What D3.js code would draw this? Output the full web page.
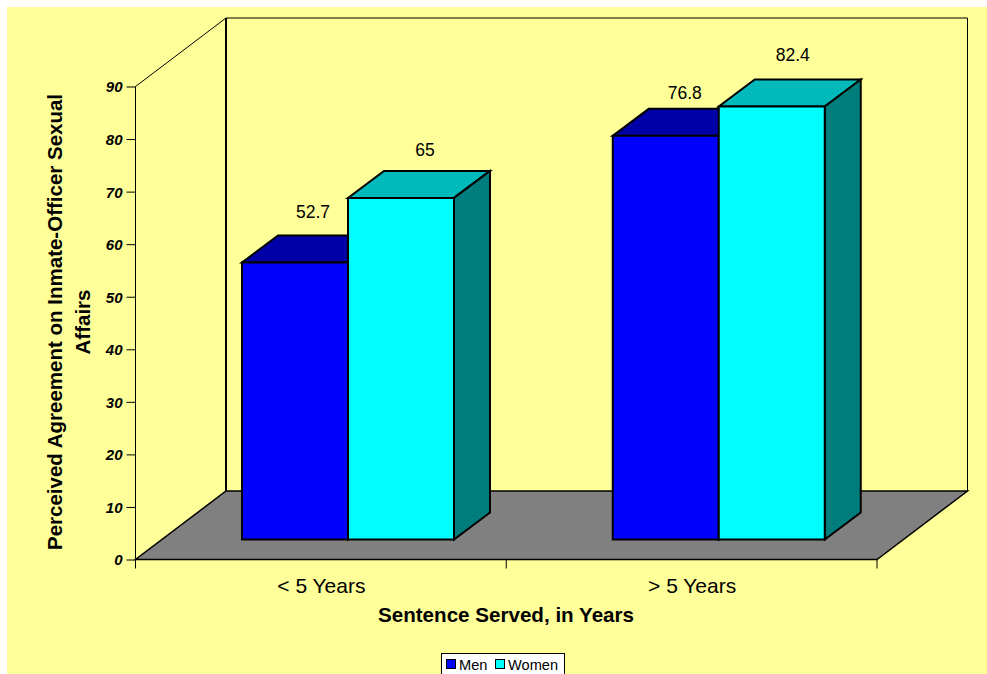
<!DOCTYPE html>
<html><head><meta charset="utf-8">
<script src="https://cdn.jsdelivr.net/npm/d3@7"></script>
<style>html,body{margin:0;padding:0;background:#fff}svg{display:block}text{font-family:"Liberation Sans",Arial,sans-serif;fill:#000}</style>
</head><body><svg id="c" width="987" height="674"></svg>
<script>
const categories = ["< 5 Years", "> 5 Years"];
const seriesNames = ["Men", "Women"];
const men = [52.7, 76.8];
const women = [65, 82.4];
const labelsMen = ["52.7", "76.8"];
const labelsWomen = ["65", "82.4"];
const yTicks = [0,10,20,30,40,50,60,70,80,90];

const svg = d3.select("#c");
svg.append("rect").attr("x",7).attr("y",7).attr("width",980).attr("height",667).attr("fill","#ffff99");

const y = d3.scaleLinear().domain([0,90]).range([559.5,86.5]);
const x0 = d3.scaleBand().domain(categories).range([135.5,877]);
const x1 = d3.scaleBand().domain(seriesNames).range([106.5,318.5]).paddingInner(0);
const deep = [90.5,-68.5];
const L = 135.5, R = 877, B = y(0), T = y(90);

function dither(id, base, dot){
  const p = svg.append("defs").append("pattern").attr("id",id).attr("patternUnits","userSpaceOnUse").attr("width",4).attr("height",4);
  p.append("rect").attr("width",4).attr("height",4).attr("fill",base);
  [[0,0],[2,2]].forEach(d=>p.append("rect").attr("x",d[0]).attr("y",d[1]).attr("width",1).attr("height",1).attr("fill",dot));
  return `url(#${id})`;
}
const fills = {
  Men:{front:dither("mf","#0000ff","#0000e0"),top:dither("mt","#0000aa","#000096"),side:dither("ms","#000096","#000080")},
  Women:{front:dither("wf","#00ffff","#10eeee"),top:dither("wt","#00bcbc","#00aaaa"),side:dither("ws","#007f7f","#006e6e")}
};
const line = d3.line();
const poly = (pts,fill,sw,stroke)=>svg.append("path").attr("d",line(pts)+"Z").attr("fill",fill).attr("stroke",stroke||"#000").attr("stroke-width",sw).attr("stroke-linejoin","miter");

// walls and floor
svg.append("path").attr("d",line([[L,B],[L,T],[L+deep[0],T+deep[1]],[R+deep[0],T+deep[1]],[R+deep[0],B+deep[1]]])).attr("fill","none").attr("stroke","#000").attr("stroke-width",1);
svg.append("line").attr("x1",L+deep[0]).attr("x2",L+deep[0]).attr("y1",T+deep[1]).attr("y2",B+deep[1]).attr("stroke","#000").attr("stroke-width",2);
poly([[L,B],[R,B],[R+deep[0],B+deep[1]],[L+deep[0],B+deep[1]]],"#808080",1.5);

// axis ticks and labels
const yAxis = d3.axisLeft(y).tickValues(yTicks).tickSize(9).tickFormat(d3.format("d"));
const ga = svg.append("g").attr("transform",`translate(${L},0)`).call(yAxis);
ga.select(".domain").attr("stroke","#000").attr("d",`M0,${T}V${B}`);
ga.selectAll("line").attr("stroke","#000");
ga.selectAll("text").attr("x",-13).attr("dy","0.36em").style("font","italic bold 15px 'Liberation Sans'").attr("fill","#000");

svg.append("g").selectAll("line").data([L,(L+R)/2,R]).join("line")
  .attr("x1",d=>d).attr("x2",d=>d).attr("y1",B).attr("y2",B+9).attr("stroke","#000");
svg.append("g").selectAll("text").data(categories).join("text")
  .attr("x",d=>x0(d)+x0.bandwidth()/2+0.5).attr("y",593).attr("text-anchor","middle").attr("font-size",21).text(d=>d);

// bars
const depthBar = [36,-27];
const base = B-20;
const labelNudge = {"Men0":[71,-18],"Women0":[77,-15],"Men1":[72,-10],"Women1":[74,-18]};
const rows = [];
categories.forEach((c,i)=>{rows.push({c,i,s:"Men",v:men[i],l:labelsMen[i]});rows.push({c,i,s:"Women",v:women[i],l:labelsWomen[i]});});
rows.forEach(d=>{
  const a = x0(d.c)+x1(d.s), b = a+x1.bandwidth();
  const t = base-(B-y(d.v));
  const f = fills[d.s];
  poly([[a,t],[b,t],[b+depthBar[0],t+depthBar[1]],[a+depthBar[0],t+depthBar[1]]],f.top,2);
  poly([[b,t],[b+depthBar[0],t+depthBar[1]],[b+depthBar[0],base+depthBar[1]],[b,base]],f.side,2);
  poly([[a,t],[b,t],[b,base],[a,base]],f.front,2);
  const n = labelNudge[d.s+d.i];
  svg.append("text").attr("x",a+n[0]).attr("y",t+depthBar[1]+n[1]).attr("text-anchor","middle").attr("font-size",17.5).text(d.l);
});

// axis titles
svg.append("text").attr("x",506).attr("y",622).attr("text-anchor","middle").attr("font-size",20.6).attr("font-weight","bold").text("Sentence Served, in Years");
const ty = svg.append("text").attr("transform","translate(62,322) rotate(-90)").attr("text-anchor","middle").attr("font-size",20.5).attr("font-weight","bold");
ty.append("tspan").attr("x",0).attr("y",0).text("Perceived Agreement on Inmate-Officer Sexual");
ty.append("tspan").attr("x",0).attr("y",28).text("Affairs");

// legend
svg.append("rect").attr("x",441.5).attr("y",653.5).attr("width",123).attr("height",24).attr("fill","#fff").attr("stroke","#000");
const lx = d3.scaleOrdinal().domain(seriesNames).range([446,495]);
seriesNames.forEach(s=>{
  svg.append("rect").attr("x",lx(s)+.5).attr("y",659.5).attr("width",9).attr("height",9).attr("fill",s==="Men"?"#0000ff":"#00ffff").attr("stroke","#000");
  svg.append("text").attr("x",lx(s)+13).attr("y",669.5).attr("font-size",14.6).text(s);
});
</script></body></html>
